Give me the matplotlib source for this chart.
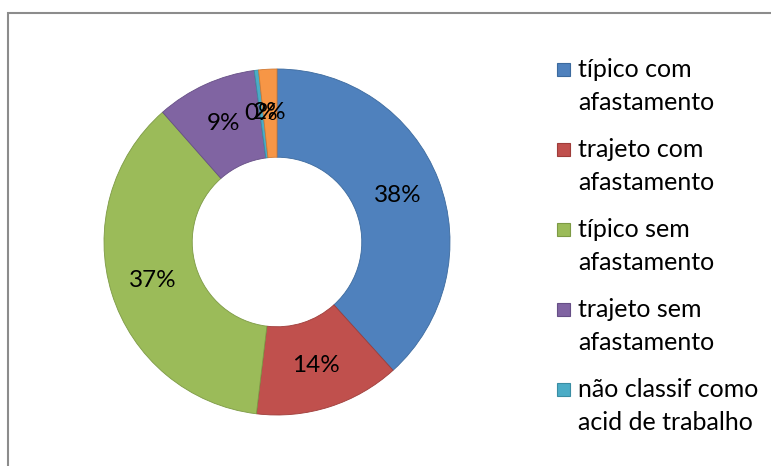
import matplotlib.pyplot as plt
from matplotlib.patches import Rectangle

# slice data (clockwise from top)
categories = ['típico com\nafastamento', 'trajeto com\nafastamento', 'típico sem\nafastamento',
              'trajeto sem\nafastamento', 'não classif como\nacid de trabalho', 'outros']
values = [38.3, 13.6, 36.6, 9.4, 0.4, 1.7]
colors = ['#4F81BD', '#C0504D', '#9BBB59', '#8064A2', '#4BACC6', '#F79646']
edges = ['#3C6A9E', '#9E3D3A', '#7D9A45', '#664F86', '#3A8DA3', '#D07A35']

plt.rcParams['font.family'] = ['Lato', 'DejaVu Sans']

W, H = 771, 466
fig = plt.figure(figsize=(W / 100, H / 100), dpi=100)

# gray chart border
fig.patches.append(Rectangle((8 / W, -0.1), 1.2, 1 - 13 / H + 0.1, transform=fig.transFigure,
                             fill=False, edgecolor='#8C8C8C', linewidth=1.5))

# donut: center (277, 242) px, outer radius 173 px
cx, cy, half = 277, 242, 180
ax = fig.add_axes([(cx - half) / W, (H - cy - half) / H, 2 * half / W, 2 * half / H])
lim = half / 173
wedges, _, autotexts = ax.pie(values, colors=colors, startangle=90, counterclock=False,
                              autopct='%.0f%%', pctdistance=0.75,
                              wedgeprops=dict(width=0.51, edgecolor='none'),
                              textprops=dict(fontsize=17.5, color='black'))
for w, ec in zip(wedges, edges):
    w.set_edgecolor(ec)
    w.set_linewidth(0.6)
ax.set_xlim(-lim, lim)
ax.set_ylim(-lim, lim)
ax.set_aspect('equal')

# legend (first five entries only), marker next to first line
for i, (cat, col, ec) in enumerate(zip(categories[:5], colors, edges)):
    base = 77 + 80 * i
    fig.patches.append(Rectangle((557 / W, 1 - (base - 1) / H), 13 / W, 13 / H,
                                 transform=fig.transFigure, facecolor=col,
                                 edgecolor=ec, linewidth=0.8))
    for j, line in enumerate(cat.split('\n')):
        fig.text(578 / W, 1 - (base + 33 * j) / H, line, fontsize=18,
                 va='baseline', ha='left')

plt.savefig('out.png', dpi=100)
